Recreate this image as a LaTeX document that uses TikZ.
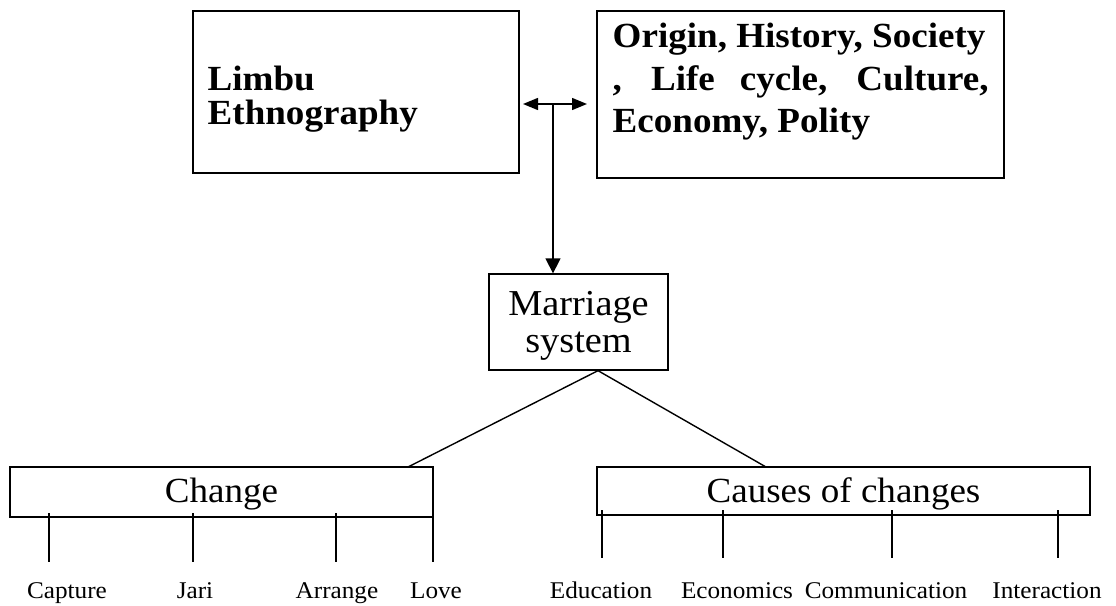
\documentclass[tikz,border=0pt]{standalone}
\usepackage{fontspec}
\setmainfont{Liberation Serif}
\usetikzlibrary{arrows.meta,calc}
\newcommand{\sx}[1]{\scalebox{1.05}[1]{#1}}
\begin{document}
\begin{tikzpicture}[x=1pt,y=-1pt,line width=1.4pt,
  box/.style={draw,rectangle,inner sep=0pt,line width=1.3pt},
  bold/.style={font=\fontsize{35.3}{40}\selectfont\bfseries,inner sep=0pt,anchor=base west},
  big/.style={font=\fontsize{35.3}{37}\selectfont,inner sep=0pt,anchor=base},
  lab/.style={font=\fontsize{24}{28}\selectfont,inner sep=0pt,anchor=base},
  tip/.style={-{Triangle[width=15pt,length=15pt]}},
  bitip/.style={{Triangle[width=12pt,length=15pt]}-{Triangle[width=12pt,length=15pt]}}]
\useasboundingbox (0,0) rectangle (1116,605);

% boxes
\node[box,minimum width=326pt,minimum height=162pt] (limbu) at (356,92) {};
\node[box,minimum width=407pt,minimum height=167pt] (aspects) at (800.5,94.5) {};
\node[box,minimum width=179pt,minimum height=96pt] (marriage) at (578.5,322) {};
\node[box,minimum width=423pt,minimum height=50pt] (change) at (221.5,492) {};
\node[box,minimum width=493pt,minimum height=48pt] (causes) at (843.5,491) {};

% box texts
\node[bold] (t1) at (207,90) {\sx{Limbu}};
\node[bold] (t2) at (207,124) {\sx{Ethnography}};
\node[bold] (a1) at (612,47) {\sx{Origin, History, Society}};
\node[bold] (a2) at (612,90) {\sx{\makebox[358pt][s]{, Life cycle, Culture,}}};
\node[bold] (a3) at (612,132) {\sx{Economy, Polity}};
\node[big,font=\fontsize{36.5}{37}\selectfont] (m1) at (578.5,315) {\sx{Marriage}};
\node[big,font=\fontsize{36.5}{37}\selectfont] (m2) at (578.5,352) {\sx{system}};
\node[big] (ct) at (221.5,502) {\sx{Change}};
\node[big] (kt) at (843.5,502) {\sx{Causes of changes}};

% top arrows
\coordinate (hl) at (523,104);
\coordinate (hr) at (587,104);
\coordinate (hm) at (553,104);
\draw[bitip] (hl) -- (hr);
\draw[tip] (hm) -- (hm |- marriage.north);

% marriage branches
\coordinate (apex) at ($(marriage.south)+(19.5,0)$);
\coordinate (cj) at (408,467);
\coordinate (kj) at (766,467);
\draw (apex) -- (cj);
\draw (apex) -- (kj);

% labels
\node[lab] (l1) at (67,598) {\sx{Capture}};
\node[lab] (l2) at (195,598) {\sx{Jari}};
\node[lab] (l3) at (337,598) {\sx{Arrange}};
\node[lab] (l4) at (436,598) {\sx{Love}};
\node[lab] (l5) at (601,598) {\sx{Education}};
\node[lab] (l6) at (737,598) {\sx{Economics}};
\node[lab] (l7) at (886,598) {\sx{Communication}};
\node[lab] (l8) at (1047,598) {\sx{Interaction}};

% ticks
\foreach \x in {49,193,336,433} \draw (\x,513) -- (\x,562);
\foreach \x in {602,723,892,1058} \draw (\x,510) -- (\x,558);
\end{tikzpicture}
\end{document}
